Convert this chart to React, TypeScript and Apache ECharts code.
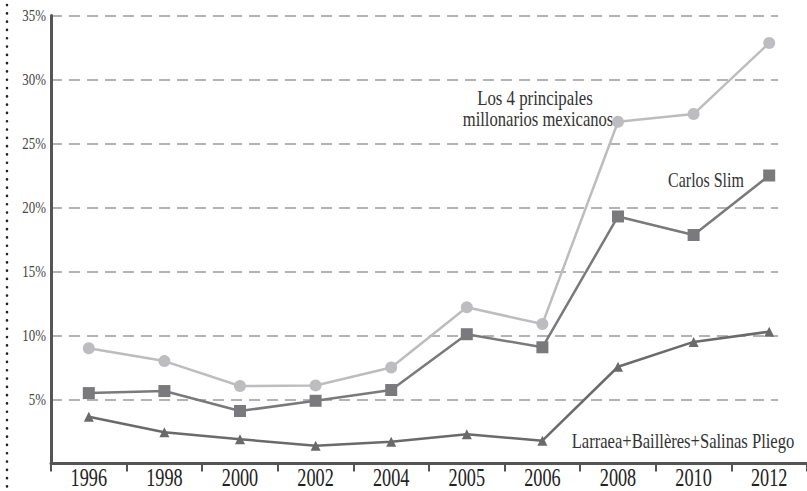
import React, { useEffect, useRef } from "react";
import * as echarts from "echarts";

const years = ["1996", "1998", "2000", "2002", "2004", "2005", "2006", "2008", "2010", "2012"];
const top4 = [9.0, 8.0, 6.05, 6.1, 7.5, 12.2, 10.9, 26.7, 27.3, 32.85];
const slim = [5.5, 5.66, 4.1, 4.9, 5.74, 10.1, 9.08, 19.3, 17.85, 22.5];
const larraea = [3.65, 2.44, 1.9, 1.38, 1.7, 2.28, 1.78, 7.56, 9.5, 10.3];
const yTicks = [5, 10, 15, 20, 25, 30, 35];
const seriesNames = ["Los 4 principales millonarios mexicanos", "Carlos Slim", "Larraea+Baillères+Salinas Pliego"];

const FONT = "Liberation Serif";

export default function App() {
  const ref = useRef<HTMLDivElement>(null);

  useEffect(() => {
    if (!ref.current) return;
    const chart = echarts.init(ref.current, null, { renderer: "svg" });
    const option: any = {
      animation: false,
      backgroundColor: "#ffffff",
      textStyle: { fontFamily: FONT },
      grid: [
        { left: 51, right: -15, top: 15.5, bottom: 27.5 },
        { left: 51, width: 727, top: 15.5, bottom: 27.5 },
      ],
      xAxis: [
        {
          type: "category",
          gridIndex: 0,
          data: years,
          boundaryGap: true,
          z: 5,
          axisLine: { show: true, lineStyle: { color: "#555", width: 3 } },
          axisTick: { show: true, length: 8, lineStyle: { color: "#555", width: 2 } },
          axisLabel: { show: false },
          splitLine: { show: false },
        },
        { type: "value", gridIndex: 1, show: false, min: 0, max: 1 },
      ],
      yAxis: [
        {
          type: "value",
          gridIndex: 0,
          min: 0,
          max: 35,
          interval: 5,
          z: 5,
          axisLine: { show: true, lineStyle: { color: "#555", width: 3 } },
          axisTick: { show: false },
          axisLabel: { show: false },
          splitLine: { show: false },
        },
        {
          type: "value",
          gridIndex: 1,
          min: 0,
          max: 35,
          interval: 5,
          axisLine: { show: false },
          axisTick: { show: false },
          axisLabel: { show: false },
          splitLine: { show: true, lineStyle: { color: "#9a9a9a", width: 1.5, type: [11, 7] } },
        },
      ],
      series: [
        {
          name: seriesNames[0],
          type: "line",
          xAxisIndex: 0,
          yAxisIndex: 0,
          data: top4,
          symbol: "circle",
          symbolSize: 12,
          lineStyle: { color: "#bdbdbf", width: 2.5 },
          itemStyle: { color: "#bdbdbf" },
          z: 3,
        },
        {
          name: seriesNames[1],
          type: "line",
          xAxisIndex: 0,
          yAxisIndex: 0,
          data: slim,
          symbol: "rect",
          symbolSize: 12,
          lineStyle: { color: "#7a7a7c", width: 2.5 },
          itemStyle: { color: "#7a7a7c" },
          z: 4,
        },
        {
          name: seriesNames[2],
          type: "line",
          xAxisIndex: 0,
          yAxisIndex: 0,
          data: larraea,
          symbol: "triangle",
          symbolSize: 10,
          lineStyle: { color: "#6a6a6a", width: 2.5 },
          itemStyle: { color: "#6a6a6a" },
          z: 5,
        },
      ],
    };
    chart.setOption(option);

    const g: any[] = [];
    g.push({
      type: "line",
      shape: { x1: 7, y1: 5, x2: 7, y2: 491 },
      style: { stroke: "#222", lineWidth: 2.6, lineDash: [0.1, 8.2], lineCap: "round" },
    });
    yTicks.forEach((v) => {
      const py = chart.convertToPixel({ yAxisIndex: 0 }, v) as number;
      g.push({
        type: "text",
        x: 46,
        y: py,
        scaleX: 0.76,
        style: { text: v + "%", align: "right", verticalAlign: "middle", fontFamily: FONT, fontSize: 17, fill: "#444" },
      });
    });
    const y0 = chart.convertToPixel({ yAxisIndex: 0 }, 0) as number;
    years.forEach((yr) => {
      const px = chart.convertToPixel({ xAxisIndex: 0 }, yr) as number;
      g.push({
        type: "text",
        x: px,
        y: y0 + 14,
        scaleX: 0.76,
        scaleY: 1.08,
        style: { text: yr, align: "center", verticalAlign: "middle", fontFamily: FONT, fontSize: 24, fill: "#222" },
      });
    });
    const ann = (text: string, x: number, y: number, size: number, sx: number) => ({
      type: "text",
      x,
      y,
      scaleX: sx,
      style: { text, align: "center", verticalAlign: "middle", fontFamily: FONT, fontSize: size, fill: "#333" },
    });
    g.push(ann("Los 4 principales", 535, 98, 21, 0.8));
    g.push(ann("millonarios mexicanos", 538, 119, 21, 0.79));
    g.push(ann("Carlos Slim", 706, 180, 21, 0.76));
    g.push(ann("Larraea+Baillères+Salinas Pliego", 683, 441, 21, 0.79));
    chart.setOption({ graphic: g });

    return () => chart.dispose();
  }, []);

  return <div ref={ref} style={{ position: "fixed", left: 0, top: 0, width: 807, height: 491 }} />;
}
